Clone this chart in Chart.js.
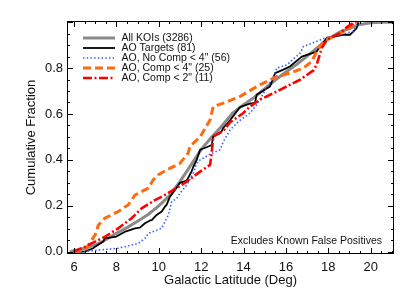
<!DOCTYPE html>
<html>
<head>
<meta charset="utf-8">
<script src="https://cdn.jsdelivr.net/npm/chart.js@4.4.1/dist/chart.umd.min.js"></script>
<style>
html,body{margin:0;padding:0;background:#fff;}
canvas{display:block;}
</style>
</head>
<body>
<canvas id="c" width="415" height="297"></canvas>
<script>
// ---- data ----
const allKoiX = [5.8, 6.0, 6.5, 7.0, 7.5, 8.0, 8.5, 9.0, 9.5, 10.0, 10.5, 11.0, 11.5, 12.0, 12.5, 13.0, 13.5, 14.0, 14.5, 15.0, 15.5, 16.0, 16.5, 17.0, 17.5, 18.0, 18.5, 19.0, 19.5, 20.0, 20.5, 21.1];
const allKoiY = [0, 0.004, 0.015, 0.029, 0.052, 0.08, 0.105, 0.133, 0.162, 0.2, 0.243, 0.305, 0.375, 0.445, 0.5, 0.55, 0.605, 0.64, 0.672, 0.71, 0.748, 0.783, 0.815, 0.852, 0.89, 0.928, 0.955, 0.973, 0.99, 0.997, 1.0, 1.0];

const aoX = [5.97, 6.5, 6.91, 7.0, 7.38, 7.46, 7.93, 8.0, 8.41, 8.49, 8.88, 9.11, 9.35, 9.59, 9.67, 9.9, 10.14, 10.29, 10.37, 10.53, 10.85, 11.0, 11.32, 11.55, 11.63, 11.79, 11.95, 12.26, 12.5, 12.57, 12.93, 13.05, 13.3, 13.68, 13.83, 14.3, 14.54, 14.62, 15.25, 15.49, 15.88, 16.19, 16.75, 17.45, 17.69, 17.93, 18.7, 19.02, 19.34, 19.42];
const aoY = [0, 0, 0.015, 0.022, 0.044, 0.058, 0.065, 0.066, 0.087, 0.09, 0.102, 0.105, 0.124, 0.136, 0.138, 0.16, 0.175, 0.196, 0.204, 0.24, 0.28, 0.3, 0.31, 0.35, 0.37, 0.4, 0.444, 0.455, 0.465, 0.502, 0.518, 0.54, 0.565, 0.611, 0.63, 0.645, 0.648, 0.684, 0.72, 0.778, 0.793, 0.807, 0.85, 0.872, 0.902, 0.931, 0.945, 0.945, 0.974, 1.0];

const noCompX = [6.3, 6.75, 8.09, 9.03, 9.35, 9.51, 10.14, 10.45, 10.61, 10.85, 11.0, 11.32, 11.63, 11.79, 11.95, 12.42, 12.89, 13.05, 13.36, 13.8, 14.3, 14.62, 15.09, 15.41, 15.57, 16.04, 16.67, 16.83, 17.85, 18.55, 19.18, 19.42];
const noCompY = [0, 0.003, 0.015, 0.036, 0.058, 0.08, 0.102, 0.16, 0.218, 0.232, 0.255, 0.29, 0.342, 0.385, 0.4, 0.425, 0.444, 0.48, 0.53, 0.57, 0.604, 0.64, 0.713, 0.763, 0.8, 0.814, 0.865, 0.894, 0.931, 0.945, 0.96, 0.996];

const comp4X = [5.97, 6.52, 7.0, 7.15, 7.46, 8.09, 8.56, 8.88, 9.51, 9.74, 9.98, 10.37, 11.0, 11.39, 11.47, 11.95, 12.42, 12.57, 13.05, 13.83, 14.77, 15.57, 16.19, 16.83, 17.22, 17.45, 17.77, 18.4, 19.02, 19.34];
const comp4Y = [0, 0.007, 0.073, 0.116, 0.146, 0.175, 0.204, 0.247, 0.277, 0.313, 0.335, 0.356, 0.385, 0.43, 0.458, 0.5, 0.574, 0.632, 0.647, 0.676, 0.727, 0.763, 0.778, 0.8, 0.829, 0.872, 0.916, 0.945, 0.974, 1.0];

const comp2X = [5.97, 6.52, 7.0, 7.46, 8.09, 8.72, 9.19, 9.82, 10.29, 10.69, 11.32, 11.95, 12.42, 12.5, 12.57, 13.05, 13.36, 13.99, 14.3, 14.77, 15.09, 16.04, 16.67, 17.3, 17.45, 17.69, 17.93, 18.55, 18.87, 19.18, 19.34];
const comp2Y = [0, 0.022, 0.044, 0.065, 0.102, 0.146, 0.189, 0.225, 0.247, 0.269, 0.305, 0.349, 0.378, 0.43, 0.502, 0.527, 0.563, 0.604, 0.632, 0.662, 0.676, 0.72, 0.749, 0.79, 0.814, 0.887, 0.923, 0.952, 0.978, 0.996, 1.0];

const seriesLabels = ['All KOIs (3286)', 'AO Targets (81)', 'AO, No Comp < 4" (56)', 'AO, Comp < 4" (25)', 'AO, Comp < 2" (11)'];
const xTickValues = [6, 8, 10, 12, 14, 16, 18, 20];
const xTickLabels = ['6', '8', '10', '12', '14', '16', '18', '20'];
const yTickValues = [0, 0.2, 0.4, 0.6, 0.8];
const yTickLabels = ['0.0', '0.2', '0.4', '0.6', '0.8'];
const xTitle = 'Galactic Latitude (Deg)';
const yTitle = 'Cumulative Fraction';
const noteText = 'Excludes Known False Positives';

// ---- helpers ----
const pts = (xs, ys) => xs.map((x, i) => ({x: x, y: ys[i]}));
const FONT = '"Liberation Sans", Arial, Helvetica, sans-serif';
const X_MIN = 5.67, X_MAX = 21.1, Y_MIN = -0.01, Y_MAX = 1.005;

const styles = [
  {color: '#8a8a8a', width: 3, dash: []},
  {color: '#000000', width: 1.8, dash: []},
  {color: '#3060ff', width: 1.6, dash: [1.5, 2.2]},
  {color: '#ff6a10', width: 3, dash: [8, 4]},
  {color: '#ff0000', width: 2.6, dash: [9, 2.5, 2, 2.5]}
];
const seriesData = [pts(allKoiX, allKoiY), pts(aoX, aoY), pts(noCompX, noCompY), pts(comp4X, comp4Y), pts(comp2X, comp2Y)];

const datasets = seriesData.map((d, i) => ({
  label: seriesLabels[i],
  data: d,
  showLine: true,
  borderColor: styles[i].color,
  backgroundColor: styles[i].color,
  borderWidth: styles[i].width,
  borderDash: styles[i].dash,
  borderCapStyle: 'butt',
  borderJoinStyle: 'round',
  pointRadius: 0,
  tension: 0,
  fill: false,
  order: 5 - i
}));

const framePlugin = {
  id: 'frame',
  afterDatasetsDraw(chart) {
    const {ctx, chartArea: a, scales: {x, y}} = chart;
    ctx.save();
    ctx.strokeStyle = '#000';
    ctx.lineWidth = 1;
    ctx.strokeRect(a.left + 0.5, a.top + 0.5, a.right - a.left - 1, a.bottom - a.top - 1);
    // x ticks (bottom & top, inward)
    ctx.beginPath();
    for (let v = 6; v <= X_MAX + 1e-9; v += 0.5) {
      const px = Math.round(x.getPixelForValue(v)) + 0.5;
      const major = Math.abs(v / 2 - Math.round(v / 2)) < 1e-9;
      const len = major ? 6 : 3;
      ctx.moveTo(px, a.bottom); ctx.lineTo(px, a.bottom - len);
      ctx.moveTo(px, a.top); ctx.lineTo(px, a.top + len);
    }
    // y ticks (left & right, inward)
    for (let k = 0; k <= 20; k++) {
      const v = k * 0.05;
      const py = Math.round(y.getPixelForValue(v)) + 0.5;
      const len = (k % 4 === 0) ? 6 : 3;
      ctx.moveTo(a.left, py); ctx.lineTo(a.left + len, py);
      ctx.moveTo(a.right, py); ctx.lineTo(a.right - len, py);
    }
    ctx.stroke();

    // legend
    const rowY = [38, 48, 58, 68, 78];
    ctx.font = '10.5px ' + FONT;
    ctx.textBaseline = 'middle';
    ctx.textAlign = 'left';
    for (let i = 0; i < 5; i++) {
      ctx.beginPath();
      ctx.strokeStyle = styles[i].color;
      ctx.lineWidth = styles[i].width;
      ctx.setLineDash(styles[i].dash);
      ctx.lineCap = 'butt';
      ctx.moveTo(83, rowY[i]);
      ctx.lineTo(115, rowY[i]);
      ctx.stroke();
      ctx.setLineDash([]);
      ctx.fillStyle = '#111';
      ctx.fillText(seriesLabels[i], 121.5, rowY[i] + 0.5);
    }
    ctx.textAlign = 'right';
    ctx.font = '10.5px ' + FONT;
    ctx.fillText(noteText, 382, 241.5);
    ctx.restore();
  }
};

new Chart(document.getElementById('c'), {
  type: 'scatter',
  data: {datasets: datasets},
  plugins: [framePlugin],
  options: {
    responsive: false,
    devicePixelRatio: 1,
    animation: false,
    events: [],
    layout: {padding: {left: 0, top: 21, right: 21, bottom: 0}},
    plugins: {legend: {display: false}, tooltip: {enabled: false}},
    scales: {
      x: {
        type: 'linear', min: X_MIN, max: X_MAX,
        grid: {display: false, drawTicks: false},
        border: {display: false},
        afterFit: (s) => { s.height = 43; },
        afterBuildTicks: (s) => { s.ticks = xTickValues.map(v => ({value: v})); },
        ticks: {
          autoSkip: false, maxRotation: 0, padding: 6,
          color: '#111', font: {family: FONT, size: 13},
          callback: (v) => { const i = xTickValues.indexOf(v); return i >= 0 ? xTickLabels[i] : ''; }
        },
        title: {display: true, text: xTitle, color: '#111', font: {family: FONT, size: 13}, padding: {top: 0, bottom: 9}}
      },
      y: {
        type: 'linear', min: Y_MIN, max: Y_MAX,
        grid: {display: false, drawTicks: false},
        border: {display: false},
        afterFit: (s) => { s.width = 67; },
        afterBuildTicks: (s) => { s.ticks = yTickValues.map(v => ({value: v})); },
        ticks: {
          autoSkip: false, padding: 4,
          color: '#111', font: {family: FONT, size: 13},
          callback: (v) => { const i = yTickValues.indexOf(v); return i >= 0 ? yTickLabels[i] : ''; }
        },
        title: {display: true, text: yTitle, color: '#111', font: {family: FONT, size: 13}, padding: {top: 24, bottom: 0}}
      }
    }
  }
});
</script>
</body>
</html>
